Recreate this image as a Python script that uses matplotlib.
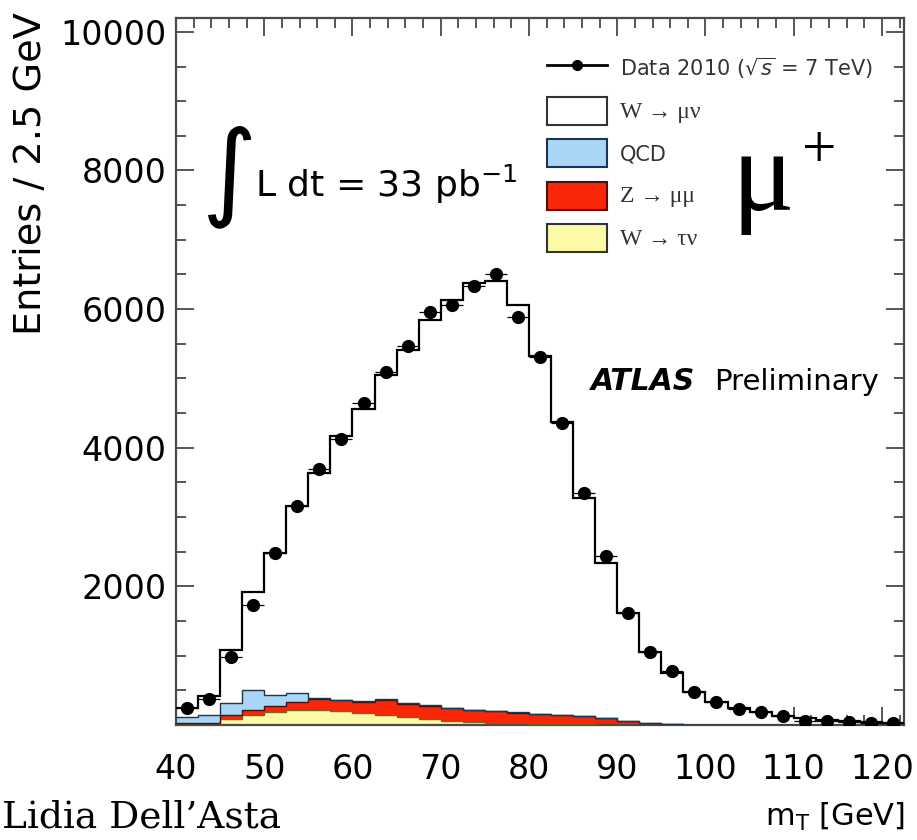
import numpy as np
import matplotlib
matplotlib.use("Agg")
import matplotlib.pyplot as plt
from matplotlib.patches import Patch
from matplotlib.lines import Line2D
from matplotlib.ticker import MultipleLocator, FixedLocator, FuncFormatter

# transverse mass bins, 2.5 GeV wide
mt_edges = np.arange(40.0, 125.0, 2.5)

data_2010 = [241, 371, 988, 1735, 2483, 3157, 3697, 4131, 4642, 5086, 5461,
             5962, 6059, 6338, 6507, 5881, 5303, 4363, 3350, 2434, 1615, 1060,
             780, 482, 337, 227, 192, 130, 63, 60, 48, 30, 28]

w_taunu = [0, 0, 90, 145, 185, 215, 217, 200, 180, 150, 115, 85, 62, 45, 34,
           24, 17, 12, 8, 5, 3, 2, 1, 0, 0, 0, 0, 0, 0, 0, 0, 0, 0]
z_mumu = [30, 35, 55, 72, 90, 120, 154, 155, 157, 215, 195, 195, 183, 175, 171,
          156, 143, 136, 120, 91, 57, 26, 11, 6, 3, 2, 1, 0, 0, 0, 0, 0, 0]
qcd = [81, 110, 175, 283, 155, 123, 14, 10, 10, 10, 5, 5, 4, 3, 3, 3, 3, 2, 2,
       2, 2, 2, 1, 1, 1, 1, 1, 0, 0, 0, 0, 0, 0]
w_munu = [139, 275, 765, 1413, 2053, 2699, 3254, 3804, 4218, 4672, 5097, 5561,
          5887, 6157, 6192, 5876, 5162, 4222, 3148, 2240, 1553, 1030, 737, 473,
          333, 237, 183, 135, 100, 78, 60, 45, 35]

x_ticks = [40, 50, 60, 70, 80, 90, 100, 110, 120]
y_ticks = [0, 2000, 4000, 6000, 8000, 10000]

c_yellow = "#fdfaa6"
c_red = "#fa2608"
c_blue = "#a9d6f6"
c_axis = "#4a4a4a"


def main():
    fig = plt.figure(figsize=(9.17, 8.40), dpi=100)
    ax = fig.add_axes([176 / 917, 115 / 840, 728 / 917, 707 / 840])

    # stacked backgrounds, bottom to top
    stack = [(w_taunu, c_yellow, "#6b6b20", 1.0),
             (z_mumu, c_red, "#5a0a00", 1.0),
             (qcd, c_blue, "#1c3550", 1.0),
             (w_munu, "white", "black", 1.6)]
    base = np.zeros(len(mt_edges) - 1)
    for vals, fc, ec, lw in stack:
        top = base + np.asarray(vals, dtype=float)
        ax.stairs(top, mt_edges, baseline=base, fill=True, color=fc, zorder=2)
        ax.stairs(top, mt_edges, baseline=None, color=ec, lw=lw, zorder=3)
        base = top

    centers = 0.5 * (mt_edges[:-1] + mt_edges[1:])
    dat = np.asarray(data_2010, dtype=float)
    ax.errorbar(centers, dat, xerr=1.25, yerr=np.sqrt(dat), fmt="o",
                color="black", ms=8.5, elinewidth=0.9, capsize=0, zorder=5)

    ax.set_xlim(40, 122.5)
    ax.set_ylim(0, 10200)
    ax.xaxis.set_major_locator(FixedLocator(x_ticks))
    ax.xaxis.set_minor_locator(MultipleLocator(2))
    ax.yaxis.set_major_locator(FixedLocator(y_ticks))
    ax.yaxis.set_minor_locator(MultipleLocator(500))
    ax.yaxis.set_major_formatter(FuncFormatter(lambda v, p: "" if v == 0 else f"{v:.0f}"))
    ax.tick_params(which="both", direction="in", top=True, right=True,
                   color=c_axis, width=1.3)
    ax.tick_params(which="major", length=13, labelsize=24)
    ax.tick_params(which="minor", length=7)
    ax.tick_params(axis="x", pad=20)
    ax.tick_params(axis="y", pad=7)
    for s in ax.spines.values():
        s.set_color(c_axis)
        s.set_linewidth(1.6)

    fig.text(31 / 917, 1 - 12 / 840, "Entries / 2.5 GeV", rotation=90,
             ha="center", va="top", fontsize=27.5)
    fig.text(905 / 917, 1 - 826 / 840, r"m$_\mathregular{T}$ [GeV]",
             ha="right", va="baseline", fontsize=22)
    fig.text(2 / 917, 1 - 828 / 840, "Lidia Dell\u2019Asta", ha="left",
             va="baseline", fontsize=27, family="DejaVu Serif")

    # annotations
    ax.text(45.7, 7900, r"$\int$", fontsize=54, ha="center", va="center")
    ax.text(48.95, 7620, r"L dt = 33 pb$^{-1}$", fontsize=26, va="baseline")
    ax.text(103.0, 7430, "\u03bc", fontsize=84, va="baseline",
            family="Liberation Serif")
    ax.text(110.9, 8050, "+", fontsize=44, va="baseline",
            family="Liberation Serif")
    ax.text(87.05, 4834, "ATLAS", fontsize=21.5, fontweight="bold",
            fontstyle="italic", va="baseline")
    ax.text(101.0, 4834, "Preliminary", fontsize=21, va="baseline")

    handles = [Line2D([], [], color="black", marker="o", ms=7, lw=2),
               Patch(facecolor="white", edgecolor="#333333", lw=1.5),
               Patch(facecolor=c_blue, edgecolor="#1c3550", lw=1.5),
               Patch(facecolor=c_red, edgecolor="#5a0a00", lw=1.5),
               Patch(facecolor=c_yellow, edgecolor="#333333", lw=1.5)]
    labels = [r"Data 2010 ($\sqrt{s}$ = 7 TeV)", "W \u2192 \u03bc\u03bd", "QCD",
              "Z \u2192 \u03bc\u03bc", "W \u2192 \u03c4\u03bd"]
    leg = ax.legend(handles, labels, loc="upper left",
                    bbox_to_anchor=(0.5096, 0.9477), frameon=False,
                    fontsize=15, borderpad=0, borderaxespad=0,
                    handlelength=2.88, handleheight=1.68, labelspacing=0.69,
                    handletextpad=0.62)
    for i in (1, 3, 4):
        leg.get_texts()[i].set_fontfamily("Liberation Serif")
        leg.get_texts()[i].set_fontsize(17)
    for t in leg.get_texts():
        t.set_color("#333333")

    fig.savefig("out.png", dpi=100, facecolor="white")


if __name__ == "__main__":
    main()
